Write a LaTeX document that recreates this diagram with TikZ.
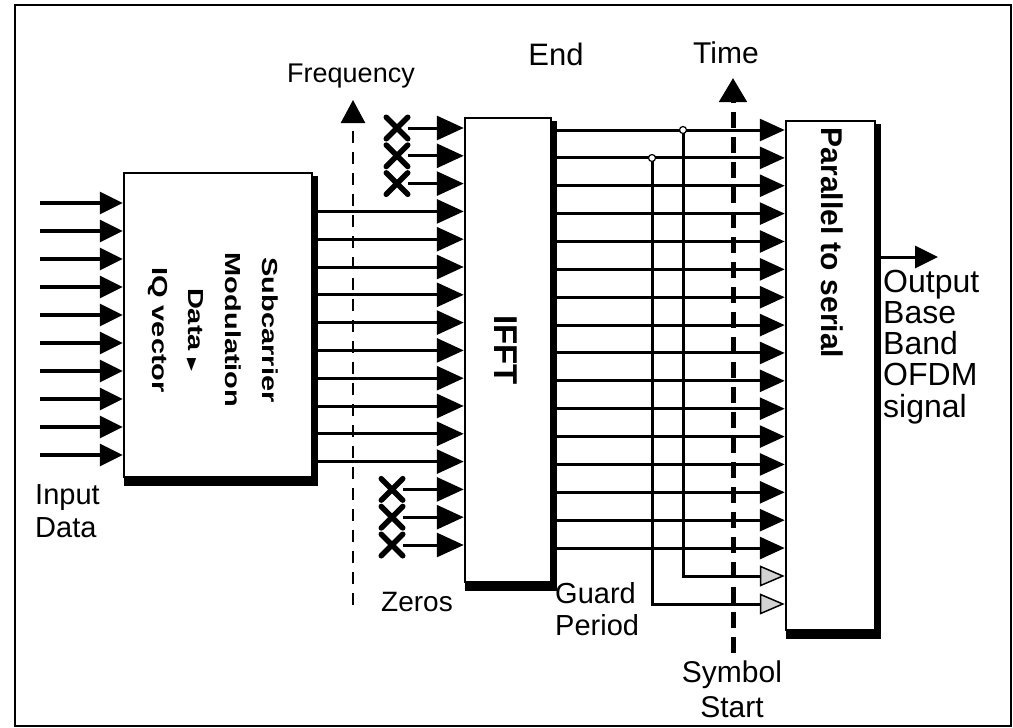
\documentclass[tikz,border=0pt]{standalone}
\usepackage{fontspec}
\setmainfont{Liberation Sans}
\newfontfamily\dejavu{DejaVu Sans}
\usetikzlibrary{arrows.meta,shapes.misc}
\newcommand\mkshadow[1]{%
  \fill ([xshift=-1.5pt,yshift=-4pt]#1.north east) rectangle ([xshift=5pt,yshift=-8pt]#1.south east);
  \fill ([xshift=1pt,yshift=1.5pt]#1.south west) rectangle ([xshift=5pt,yshift=-8pt]#1.south east);}
\newcommand\fsz[2]{\fontsize{#1}{#2}\selectfont}
\begin{document}
\begin{tikzpicture}[x=1pt,y=-1pt,
  box/.style={draw,fill=white,line width=2.5pt,inner sep=0pt},
  sig/.style={line width=3pt},
  inarr/.style={line width=3.5pt,-{Triangle[length=23pt,width=22pt]}},
  farr/.style={sig,-{Triangle[length=27pt,width=24pt]}},
  parr/.style={sig,-{Triangle[length=25pt,width=22pt]}},
  garr/.style={sig,-{Triangle[open,fill=gray!35,length=25pt,width=21pt,line width=1.5pt]}},
  xmark/.style={cross out,draw,line width=5.5pt,line cap=round,minimum size=16pt,inner sep=0pt},
  dotc/.style={circle,draw,fill=white,line width=1.2pt,minimum size=7pt,inner sep=0pt},
  lbl/.style={inner sep=0pt},
  rot/.style={rotate=-90,inner sep=0pt,font=\bfseries}
]
\useasboundingbox (0,0) rectangle (1013,728);
\draw[line width=1.6pt] (15,5) rectangle (1011,726);

% boxes
\node[box,minimum width=188pt,minimum height=304pt] (sub) at (218,325) {};
\node[box,minimum width=86pt,minimum height=464pt] (ifft) at (508,350) {};
\node[box,minimum width=89pt,minimum height=509pt] (ps) at (830.5,375.5) {};

% input data
\foreach \i in {0,...,9}{
  \pgfmathsetmacro\yy{203+28*\i}
  \coordinate (in\i) at (40,\yy);
  \draw[inarr] (in\i) -- (in\i -| sub.west);
}
% subcarrier -> IFFT
\foreach \i in {3,...,12}{
  \pgfmathsetmacro\yy{128+27.8*\i}
  \draw[farr] (sub.east |- 0,\yy) -- (ifft.west |- 0,\yy);
}
% zeros
\foreach \i in {0,1,2}{
  \pgfmathsetmacro\yy{128+27.8*\i}
  \node[xmark] (zt\i) at (397,\yy) {};
  \draw[farr] (zt\i) -- (zt\i -| ifft.west);
}
\foreach \i in {13,14,15}{
  \pgfmathsetmacro\yy{128+27.8*\i}
  \node[xmark] (zb\i) at (392,\yy) {};
  \draw[farr] (zb\i) -- (zb\i -| ifft.west);
}
% IFFT -> P/S
\foreach \i in {0,...,15}{
  \pgfmathsetmacro\yy{130+27.87*\i}
  \draw[parr] (ifft.east |- 0,\yy) -- (ps.west |- 0,\yy);
}
% guard period
\coordinate (g1) at (683,130);
\coordinate (g2) at (652,158);
\draw[garr] (g1) -- (g1 |- 0,576) -- (ps.west |- 0,576);
\draw[garr] (g2) -- (g2 |- 0,604) -- (ps.west |- 0,604);
\node[dotc] (c1) at (g1) {};
\node[dotc] (c2) at (g2) {};

% shadows
\mkshadow{sub}
\mkshadow{ifft}
\mkshadow{ps}

% frequency and time axes
\coordinate (f0) at (353,605);
\coordinate (f1) at (353,100);
\draw[line width=2.5pt,dash pattern=on 12pt off 9pt,-{Triangle[length=23pt,width=24pt]}] (f0) -- (f1);
\coordinate (t0) at (733,653);
\coordinate (t1) at (733,78);
\draw[line width=5pt,dash pattern=on 16pt off 9pt,-{Triangle[length=24pt,width=27pt]}] (t0) -- (t1);

% output
\coordinate (outend) at (938,257);
\draw[sig,-{Triangle[length=23pt,width=22pt]}] (ps.east |- outend) -- (outend);

% texts
\node[rot,align=center,yscale=0.75,font=\bfseries\fsz{29}{49}] (subtxt) at (213,330)
  {Subcarrier\\Modulation\\Data {\dejavu\fsz{17}{17}▶}\\IQ vector};
\node[rot,font=\bfseries\fsz{33}{33}] (iffttxt) at (506,350) {IFFT};
\node[rot,font=\bfseries\fsz{30}{30}] (pstxt) at (832,243) {Parallel to serial};

\node[lbl,font=\fsz{27}{30}] (freq) at (351,76) {Frequency};
\node[lbl,font=\fsz{31}{34}] (endl) at (556,54) {End};
\node[lbl,font=\fsz{30}{34}] (timel) at (726,53) {Time};
\node[lbl,align=center,font=\fsz{30}{35}] (sym) at (732,689) {Symbol\\Start};
\node[lbl,align=left,anchor=north west,font=\fsz{32}{31.25}] (outl) at (883,269.5) {Output\\Base\\Band\\OFDM\\signal};
\node[lbl,align=left,anchor=north west,font=\fsz{29}{33}] (inl) at (35,484) {Input\\Data};
\node[lbl,font=\fsz{28}{30}] (zer) at (417,602) {Zeros};
\node[lbl,align=left,anchor=north west,font=\fsz{29}{32}] (gp) at (555,582) {Guard\\Period};
\end{tikzpicture}
\end{document}
